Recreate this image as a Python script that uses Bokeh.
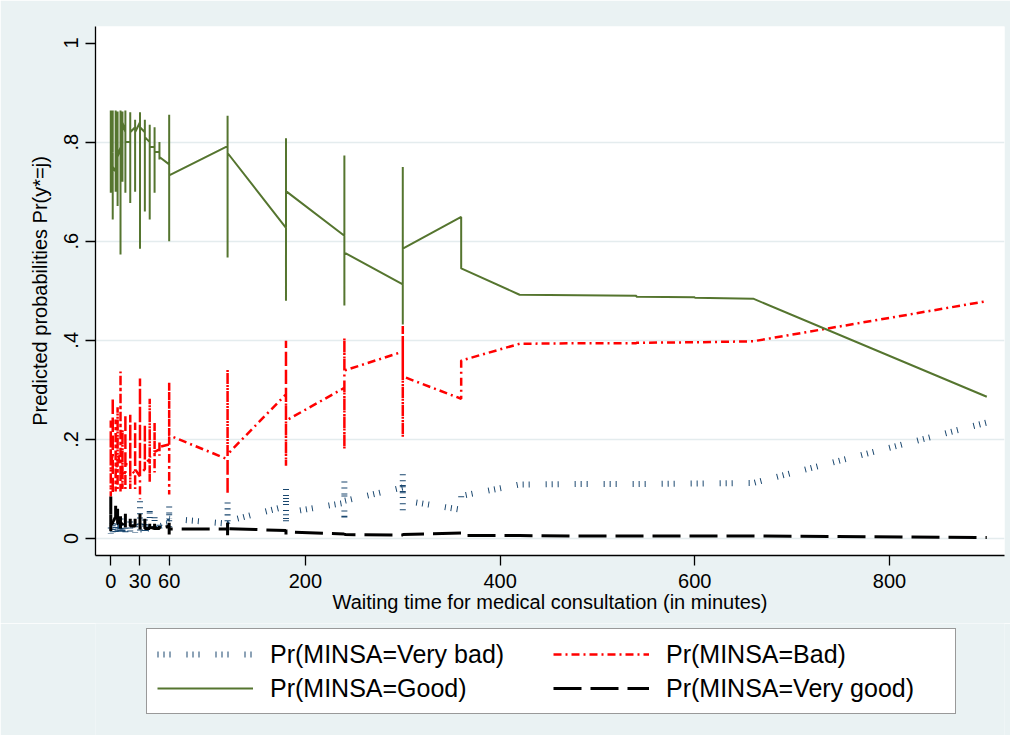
from bokeh.plotting import figure
from bokeh.layouts import column
from bokeh.models import Range1d, FixedTicker, Legend, LegendItem, ColumnDataSource
from bokeh.embed import file_html
from bokeh.resources import INLINE

# Waiting time (minutes), one entry per observation, sorted (ties repeat)
wait_time = [0, 0, 0, 0, 2, 2, 2, 2, 5, 5, 5, 5, 7, 7, 7, 7,
             10, 10, 10, 10, 12, 12, 12, 12, 15, 15, 15, 15,
             20, 20, 20, 20, 25, 25, 25, 25, 30, 30, 30, 30,
             35, 35, 35, 35, 40, 40, 40, 40, 45, 45, 45, 45,
             50, 50, 50, 50, 60, 60, 60, 60, 120, 120, 120, 120,
             180, 180, 180, 180, 240, 240, 240, 240, 300, 300, 300, 300,
             360, 360, 420, 480, 540, 540, 600, 600, 660, 900]

pr_very_bad = [0.022, 0.009, 0.035, 0.020, 0.020, 0.010, 0.045, 0.028,
               0.026, 0.012, 0.032, 0.020, 0.020, 0.012, 0.035, 0.015,
               0.020, 0.011, 0.050, 0.030, 0.020, 0.012, 0.030, 0.015,
               0.017, 0.011, 0.030, 0.020, 0.020, 0.012, 0.035, 0.015,
               0.015, 0.012, 0.032, 0.018, 0.015, 0.009, 0.075, 0.018,
               0.018, 0.015, 0.050, 0.020, 0.020, 0.026, 0.059, 0.022,
               0.020, 0.020, 0.045, 0.025, 0.020, 0.020, 0.030, 0.025,
               0.030, 0.012, 0.073, 0.040, 0.030, 0.016, 0.083, 0.035,
               0.065, 0.032, 0.107, 0.052, 0.072, 0.038, 0.117, 0.076,
               0.103, 0.052, 0.135, 0.077,
               0.058, 0.086, 0.109, 0.110, 0.110, 0.110, 0.111, 0.111, 0.112, 0.234]

pr_bad = [0.200, 0.085, 0.238, 0.150, 0.170, 0.090, 0.284, 0.190,
          0.190, 0.095, 0.240, 0.130, 0.160, 0.100, 0.265, 0.170,
          0.150, 0.095, 0.337, 0.130, 0.150, 0.100, 0.220, 0.120,
          0.135, 0.100, 0.250, 0.150, 0.150, 0.100, 0.250, 0.140,
          0.130, 0.100, 0.234, 0.140, 0.125, 0.079, 0.323, 0.130,
          0.140, 0.140, 0.230, 0.150, 0.160, 0.113, 0.282, 0.165,
          0.170, 0.133, 0.234, 0.175, 0.180, 0.167, 0.197, 0.185,
          0.190, 0.089, 0.315, 0.208, 0.160, 0.089, 0.341, 0.170,
          0.291, 0.147, 0.399, 0.238, 0.304, 0.180, 0.405, 0.339,
          0.377, 0.204, 0.429, 0.327,
          0.282, 0.359, 0.393, 0.394, 0.394, 0.395, 0.396, 0.396, 0.398, 0.479]

pr_good = [0.730, 0.864, 0.698, 0.800, 0.780, 0.864, 0.644, 0.750,
           0.740, 0.864, 0.700, 0.820, 0.800, 0.862, 0.671, 0.770,
           0.790, 0.864, 0.573, 0.830, 0.800, 0.862, 0.720, 0.840,
           0.820, 0.864, 0.698, 0.800, 0.800, 0.860, 0.677, 0.820,
           0.830, 0.845, 0.700, 0.820, 0.840, 0.860, 0.585, 0.830,
           0.820, 0.845, 0.660, 0.810, 0.800, 0.835, 0.644, 0.790,
           0.790, 0.830, 0.698, 0.780, 0.780, 0.800, 0.765, 0.770,
           0.755, 0.855, 0.600, 0.733, 0.792, 0.853, 0.567, 0.778,
           0.627, 0.808, 0.480, 0.701, 0.611, 0.773, 0.470, 0.577,
           0.513, 0.750, 0.432, 0.585,
           0.649, 0.545, 0.492, 0.491, 0.490, 0.488, 0.487, 0.486, 0.484, 0.286]

pr_very_good = [0.048, 0.085, 0.015, 0.030, 0.030, 0.036, 0.027, 0.032,
                0.044, 0.066, 0.028, 0.030, 0.030, 0.060, 0.029, 0.025,
                0.030, 0.045, 0.020, 0.030, 0.030, 0.026, 0.030, 0.025,
                0.028, 0.050, 0.022, 0.030, 0.030, 0.040, 0.038, 0.025,
                0.025, 0.040, 0.034, 0.022, 0.020, 0.050, 0.017, 0.022,
                0.022, 0.040, 0.020, 0.020, 0.020, 0.030, 0.015, 0.023,
                0.020, 0.030, 0.018, 0.020, 0.020, 0.025, 0.018, 0.020,
                0.025, 0.032, 0.008, 0.019, 0.019, 0.032, 0.006, 0.020,
                0.016, 0.018, 0.008, 0.013, 0.009, 0.011, 0.006, 0.008,
                0.007, 0.010, 0.005, 0.008,
                0.011, 0.006, 0.006, 0.005, 0.005, 0.005, 0.005, 0.005, 0.005, 0.002]

x_ticks = [0, 30, 60, 200, 400, 600, 800]
y_ticks = [0, 0.2, 0.4, 0.6, 0.8, 1]
y_tick_labels = ["0", ".2", ".4", ".6", ".8", "1"]
legend_labels = ["Pr(MINSA=Very bad)", "Pr(MINSA=Bad)", "Pr(MINSA=Good)", "Pr(MINSA=Very good)"]

FONT = "Liberation Sans"
BG = "#EAF2F3"
STYLES = [dict(line_color="#1A476F", line_width=6, line_dash="1 5 1 5 1 16"),
          dict(line_color="#FF0000", line_width=2.5, line_dash="8 4 2 4"),
          dict(line_color="#55752F", line_width=2),
          dict(line_color="black", line_width=3, line_dash="28 9")]
COLS = ["vb", "bad", "good", "vg"]

source = ColumnDataSource(dict(wait=wait_time, vb=pr_very_bad, bad=pr_bad,
                               good=pr_good, vg=pr_very_good))

p = figure(width=1010, height=623, output_backend="svg", toolbar_location=None,
           x_range=Range1d(-15.7, 918.2), y_range=Range1d(-0.0343, 1.0333),
           min_border_left=95, min_border_right=6, min_border_top=26,
           min_border_bottom=68)
p.border_fill_color = BG
p.background_fill_color = "white"
p.outline_line_color = None

for col, st in zip(COLS, STYLES):
    p.line("wait", col, source=source, **st)

p.xaxis.ticker = FixedTicker(ticks=x_ticks)
p.yaxis.ticker = FixedTicker(ticks=y_ticks)
p.yaxis.major_label_overrides = {t: l for t, l in zip(y_ticks, y_tick_labels)}
p.yaxis.major_label_orientation = "vertical"
p.xgrid.visible = False
p.ygrid.ticker = FixedTicker(ticks=[0, 0.2, 0.4, 0.6, 0.8])
p.ygrid.grid_line_color = "#E4ECEE"
p.ygrid.grid_line_width = 1.5

p.xaxis.axis_label = "Waiting time for medical consultation (in minutes)"
p.yaxis.axis_label = "Predicted probabilities Pr(y*=j)"
for ax in (p.xaxis[0], p.yaxis[0]):
    ax.axis_line_color = "black"
    ax.axis_line_width = 1.3
    ax.major_tick_line_color = "black"
    ax.major_tick_line_width = 1.3
    ax.major_tick_out = 10
    ax.major_tick_in = 0
    ax.minor_tick_out = 0
    ax.minor_tick_in = 0
    ax.major_label_text_font = FONT
    ax.major_label_text_font_size = "20px"
    ax.major_label_text_color = "black"
    ax.axis_label_text_font = FONT
    ax.axis_label_text_font_size = "20px"
    ax.axis_label_text_font_style = "normal"
    ax.axis_label_text_color = "black"
p.xaxis.major_label_standoff = 8
p.xaxis.axis_label_standoff = 0
p.yaxis.major_label_standoff = 7
p.yaxis.axis_label_standoff = 11

# Legend panel below the plot (its own small figure; its view range lies
# beyond the data, so the key lines only appear inside the legend)
leg = figure(width=1010, height=112, output_backend="svg", toolbar_location=None,
             x_range=Range1d(5000, 5001), y_range=Range1d(5000, 5001),
             x_axis_location=None, y_axis_location=None,
             min_border_left=0, min_border_right=0, min_border_top=0,
             min_border_bottom=0)
leg.border_fill_color = BG
leg.background_fill_color = BG
leg.outline_line_color = None
leg.grid.visible = False
key_renderers = [leg.line("wait", col, source=source, **st)
                 for col, st in zip(COLS, STYLES)]

legend = Legend(items=[LegendItem(label=lab, renderers=[r])
                       for lab, r in zip(legend_labels, key_renderers)],
                orientation="horizontal", ncols=2, location=(51, 21),
                margin=0, padding=10, spacing=4,
                glyph_width=96, glyph_height=30, label_height=30,
                label_width=279, label_standoff=17,
                label_text_font=FONT, label_text_font_size="25px",
                label_text_color="black",
                border_line_color="#333333", border_line_width=1.5,
                background_fill_color="white", background_fill_alpha=1.0)
leg.add_layout(legend, "center")

open("out.html", "w").write(file_html(column(p, leg, spacing=0), INLINE))
